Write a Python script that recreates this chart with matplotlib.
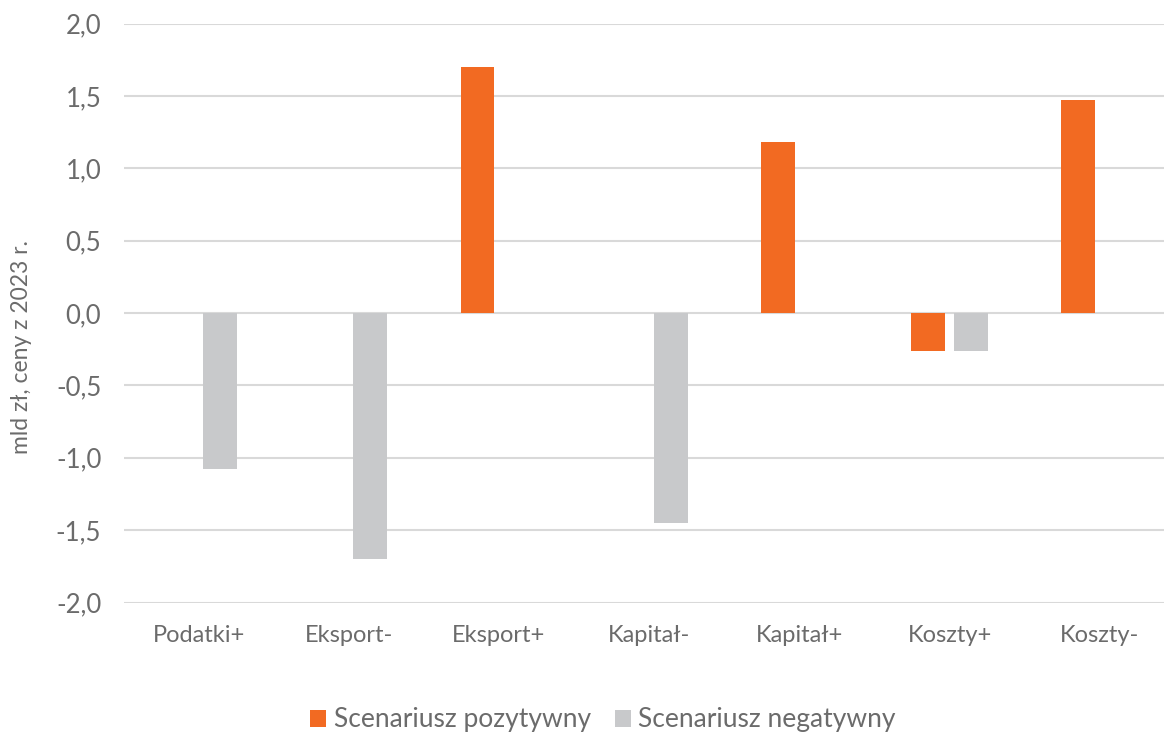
import matplotlib
matplotlib.use("Agg")
import matplotlib.pyplot as plt
import numpy as np

categories = ["Podatki+", "Eksport-", "Eksport+", "Kapitał-", "Kapitał+", "Koszty+", "Koszty-"]
pozytywny = [0.0, 0.0, 1.70, 0.0, 1.18, -0.26, 1.47]
negatywny = [-1.08, -1.70, 0.0, -1.45, 0.0, -0.26, 0.0]
series_names = ["Scenariusz pozytywny", "Scenariusz negatywny"]
yticks = [-2.0, -1.5, -1.0, -0.5, 0.0, 0.5, 1.0, 1.5, 2.0]

plt.rcParams["font.family"] = ["Lato", "DejaVu Sans"]
text_col = "#6b6b6b"
orange = "#F26A22"
gray = "#C8C9CB"

W, H = 1164, 733
fig = plt.figure(figsize=(W / 100, H / 100), dpi=100)
left, right = 123.5, 1164
top, bottom = 23.5, 602.5
ax = fig.add_axes([left / W, 1 - bottom / H, (right - left) / W, (bottom - top) / H])

x = np.arange(len(categories))
bw = 0.226
off = 0.143
b1 = ax.bar(x - off, pozytywny, bw, color=orange, label=series_names[0], zorder=3)
b2 = ax.bar(x + off, negatywny, bw, color=gray, label=series_names[1], zorder=3)

cat_px = 150.2
ax.set_xlim(-0.5, -0.5 + (right - left) / cat_px)
ax.set_ylim(-2.0, 2.0)
ax.set_yticks(yticks)
ax.set_yticklabels([f"{v:.1f}".replace(".", ",") for v in yticks])
ax.set_xticks(x)
ax.set_xticklabels(categories)
ax.tick_params(axis="both", length=0, colors=text_col)
ax.tick_params(axis="y", pad=16, labelsize=18.5)
ax.tick_params(axis="x", pad=16, labelsize=17)
ax.grid(axis="y", color="#d9d9d9", linewidth=1.5, zorder=0)
for s in ax.spines.values():
    s.set_visible(False)

fig.text(22 / W, 1 - 347 / H, "mld zł, ceny z 2023 r.", rotation=90,
         ha="center", va="center", color=text_col, fontsize=16.5)

fig.legend(handles=[b1, b2], loc="center", bbox_to_anchor=(603 / W, 1 - 720 / H),
           ncol=2, frameon=False, fontsize=19, labelcolor=text_col,
           handlelength=0.6, handleheight=0.6, handletextpad=0.3, columnspacing=0.9)

fig.savefig("out.png", dpi=100)
